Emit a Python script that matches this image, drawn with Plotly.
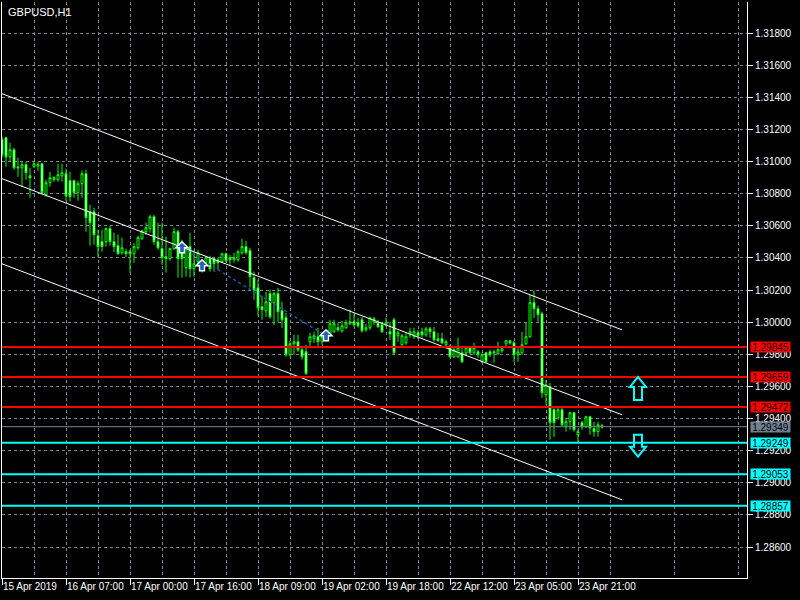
import plotly.graph_objects as go

# ---------------- data ----------------
symbol_title = "GBPUSD,H1"

open_ = [1.31136, 1.31148, 1.31029, 1.31073, 1.30967, 1.30961, 1.30980, 1.30911, 1.30967, 1.30973,
         1.30986, 1.30793, 1.30868, 1.30887, 1.30887, 1.30911, 1.30924, 1.30880, 1.30880, 1.30806,
         1.30862, 1.30924, 1.30687, 1.30687, 1.30538, 1.30501, 1.30501, 1.30582, 1.30501, 1.30476,
         1.30432, 1.30438, 1.30438, 1.30426, 1.30463, 1.30519, 1.30563, 1.30582, 1.30656, 1.30501,
         1.30457, 1.30407, 1.30395, 1.30457, 1.30563, 1.30438, 1.30339, 1.30470, 1.30332, 1.30376,
         1.30370, 1.30370, 1.30395, 1.30395, 1.30388, 1.30376, 1.30426, 1.30401, 1.30388, 1.30388,
         1.30432, 1.30470, 1.30445, 1.30277, 1.30214, 1.30096, 1.30071, 1.30177, 1.30121, 1.30177,
         1.30071, 1.30027, 1.29797, 1.29865, 1.29878, 1.29828, 1.29815, 1.29878, 1.29896, 1.29909,
         1.29878, 1.29903, 1.29921, 1.29940, 1.29965, 1.29946, 1.29965, 1.29990, 1.30002, 1.29996,
         1.30015, 1.29952, 1.29965, 1.30002, 1.29996, 1.29983, 1.29983, 1.29940, 1.30015, 1.29915,
         1.29859, 1.29871, 1.29921, 1.29909, 1.29934, 1.29940, 1.29921, 1.29958, 1.29940, 1.29896,
         1.29896, 1.29859, 1.29840, 1.29784, 1.29784, 1.29809, 1.29809, 1.29840, 1.29809, 1.29815,
         1.29753, 1.29809, 1.29815, 1.29815, 1.29803, 1.29822, 1.29865, 1.29884, 1.29871, 1.29797,
         1.29809, 1.29865, 1.29909, 1.30121, 1.30083, 1.30052, 1.29548, 1.29597, 1.29454, 1.29404,
         1.29454, 1.29349, 1.29380, 1.29436, 1.29299, 1.29374, 1.29349, 1.29411, 1.29336, 1.29318,
         1.29355]
high = [1.31155, 1.31155, 1.31117, 1.31086, 1.31023, 1.31005, 1.30998, 1.30961, 1.31005, 1.30998,
        1.30992, 1.30887, 1.30936, 1.30911, 1.30986, 1.30986, 1.30955, 1.30936, 1.30887, 1.30880,
        1.30943, 1.30949, 1.30731, 1.30712, 1.30575, 1.30575, 1.30588, 1.30600, 1.30557, 1.30544,
        1.30526, 1.30457, 1.30451, 1.30494, 1.30538, 1.30575, 1.30619, 1.30668, 1.30668, 1.30619,
        1.30619, 1.30532, 1.30463, 1.30588, 1.30575, 1.30513, 1.30482, 1.30557, 1.30451, 1.30451,
        1.30388, 1.30413, 1.30413, 1.30407, 1.30401, 1.30432, 1.30432, 1.30420, 1.30432, 1.30451,
        1.30519, 1.30507, 1.30463, 1.30314, 1.30264, 1.30164, 1.30189, 1.30202, 1.30189, 1.30214,
        1.30127, 1.30058, 1.29884, 1.29921, 1.29921, 1.29853, 1.29859, 1.29934, 1.29940, 1.29965,
        1.29940, 1.29952, 1.30015, 1.30015, 1.29996, 1.30008, 1.30015, 1.30077, 1.30058, 1.30027,
        1.30033, 1.29990, 1.30033, 1.30033, 1.30015, 1.30002, 1.30027, 1.30002, 1.30027, 1.29946,
        1.29927, 1.29934, 1.29965, 1.29965, 1.29952, 1.29965, 1.29971, 1.29971, 1.29971, 1.29934,
        1.29934, 1.29890, 1.29859, 1.29840, 1.29903, 1.29847, 1.29847, 1.29847, 1.29871, 1.29828,
        1.29809, 1.29815, 1.29828, 1.29828, 1.29878, 1.29847, 1.29890, 1.29890, 1.29884, 1.29847,
        1.29940, 1.29996, 1.30170, 1.30195, 1.30102, 1.30065, 1.29641, 1.29622, 1.29467, 1.29467,
        1.29467, 1.29404, 1.29442, 1.29442, 1.29330, 1.29386, 1.29417, 1.29417, 1.29380, 1.29380,
        1.29367]
low = [1.31023, 1.30967, 1.30998, 1.30949, 1.30905, 1.30843, 1.30887, 1.30775, 1.30961, 1.30943,
       1.30793, 1.30781, 1.30843, 1.30874, 1.30874, 1.30874, 1.30756, 1.30750, 1.30775, 1.30756,
       1.30775, 1.30563, 1.30476, 1.30482, 1.30407, 1.30438, 1.30470, 1.30476, 1.30438, 1.30420,
       1.30420, 1.30407, 1.30308, 1.30370, 1.30451, 1.30513, 1.30544, 1.30557, 1.30482, 1.30451,
       1.30357, 1.30308, 1.30382, 1.30451, 1.30277, 1.30277, 1.30283, 1.30277, 1.30283, 1.30345,
       1.30308, 1.30357, 1.30314, 1.30314, 1.30326, 1.30370, 1.30370, 1.30357, 1.30370, 1.30376,
       1.30420, 1.30420, 1.30214, 1.30139, 1.30040, 1.30015, 1.30033, 1.30021, 1.29983, 1.30002,
       1.29965, 1.29784, 1.29784, 1.29797, 1.29815, 1.29766, 1.29672, 1.29847, 1.29871, 1.29847,
       1.29859, 1.29878, 1.29909, 1.29934, 1.29940, 1.29934, 1.29958, 1.29983, 1.29971, 1.29965,
       1.29934, 1.29940, 1.29952, 1.29983, 1.29965, 1.29934, 1.29971, 1.29890, 1.29797, 1.29878,
       1.29853, 1.29859, 1.29903, 1.29896, 1.29896, 1.29903, 1.29909, 1.29903, 1.29878, 1.29878,
       1.29865, 1.29847, 1.29778, 1.29778, 1.29778, 1.29747, 1.29797, 1.29797, 1.29797, 1.29778,
       1.29747, 1.29747, 1.29784, 1.29747, 1.29797, 1.29809, 1.29840, 1.29859, 1.29753, 1.29753,
       1.29797, 1.29859, 1.29903, 1.30027, 1.30002, 1.29529, 1.29486, 1.29268, 1.29286, 1.29392,
       1.29349, 1.29318, 1.29330, 1.29318, 1.29256, 1.29330, 1.29342, 1.29299, 1.29286, 1.29286,
       1.29336]
close = [1.31042, 1.31029, 1.31073, 1.30961, 1.30961, 1.30980, 1.30930, 1.30899, 1.30986, 1.30980,
         1.30806, 1.30868, 1.30899, 1.30899, 1.30918, 1.30930, 1.30787, 1.30781, 1.30806, 1.30862,
         1.30924, 1.30650, 1.30619, 1.30544, 1.30470, 1.30470, 1.30582, 1.30501, 1.30470, 1.30426,
         1.30463, 1.30426, 1.30426, 1.30470, 1.30526, 1.30569, 1.30588, 1.30656, 1.30501, 1.30463,
         1.30401, 1.30395, 1.30457, 1.30563, 1.30395, 1.30395, 1.30470, 1.30332, 1.30364, 1.30432,
         1.30351, 1.30401, 1.30332, 1.30364, 1.30370, 1.30426, 1.30382, 1.30388, 1.30401, 1.30438,
         1.30470, 1.30432, 1.30283, 1.30202, 1.30089, 1.30077, 1.30127, 1.30033, 1.30177, 1.30065,
         1.30015, 1.29797, 1.29865, 1.29878, 1.29828, 1.29784, 1.29679, 1.29909, 1.29915, 1.29878,
         1.29909, 1.29934, 1.29990, 1.29990, 1.29952, 1.29977, 1.29996, 1.30002, 1.29983, 1.29977,
         1.29946, 1.29965, 1.30027, 1.30021, 1.29971, 1.29940, 1.29996, 1.29927, 1.29809, 1.29934,
         1.29915, 1.29909, 1.29940, 1.29940, 1.29915, 1.29921, 1.29958, 1.29940, 1.29890, 1.29884,
         1.29871, 1.29878, 1.29784, 1.29828, 1.29840, 1.29753, 1.29840, 1.29809, 1.29840, 1.29797,
         1.29797, 1.29753, 1.29797, 1.29809, 1.29828, 1.29834, 1.29884, 1.29871, 1.29797, 1.29815,
         1.29859, 1.29909, 1.30121, 1.30083, 1.30046, 1.29560, 1.29610, 1.29374, 1.29374, 1.29454,
         1.29361, 1.29380, 1.29436, 1.29330, 1.29318, 1.29349, 1.29411, 1.29342, 1.29318, 1.29361,
         1.29349]
bar_index = list(range(len(close)))

x_tick_pos = [0, 16, 32, 48, 64, 80, 96, 112, 128, 144]
x_tick_labels = ["15 Apr 2019", "16 Apr 07:00", "17 Apr 00:00", "17 Apr 16:00", "18 Apr 09:00",
                 "19 Apr 02:00", "19 Apr 18:00", "22 Apr 12:00", "23 Apr 05:00", "23 Apr 21:00"]
x_grid_minor = [8, 24, 40, 56, 72, 88, 104, 120, 136, 152, 168, 184]
x_range = [0, 186.25]

y_ticks = [1.286, 1.288, 1.290, 1.292, 1.294, 1.296, 1.298, 1.300, 1.302, 1.304,
           1.306, 1.308, 1.310, 1.312, 1.314, 1.316, 1.318]
y_range = [1.28407, 1.31993]

resistance_levels = [1.29845, 1.29659, 1.29472]
support_levels = [1.29249, 1.29053, 1.28857]
bid_price = 1.29349

channel_x = [0, 155]
channel_upper = [1.31422, 1.29952]
channel_mid = [1.30893, 1.29423]
channel_lower = [1.30363, 1.28894]

trade_bars = [45, 50, 81]
trade_prices = [1.30463, 1.30351, 1.29915]
trade_line_bars = [45, 81]
trade_line_prices = [1.30463, 1.29915]

signal_bar = 159
signal_up_price = 1.29659
signal_down_price = 1.29299

# ---------------- figure ----------------
FONT = "Liberation Sans"
GREEN = "#00FF00"
GRID = "#778899"

fig = go.Figure()

fig.add_trace(go.Candlestick(
    x=bar_index, open=open_, high=high, low=low, close=close,
    increasing=dict(line=dict(color=GREEN, width=1), fillcolor="#000000"),
    decreasing=dict(line=dict(color=GREEN, width=1), fillcolor="#FFFFFF"),
    whiskerwidth=0, showlegend=False, hoverinfo="skip",
))

for ys in (channel_upper, channel_mid, channel_lower):
    fig.add_trace(go.Scatter(x=channel_x, y=ys, mode="lines",
                             line=dict(color="#FFFFFF", width=1),
                             showlegend=False, hoverinfo="skip"))

fig.add_trace(go.Scatter(x=trade_line_bars, y=trade_line_prices, mode="lines",
                         line=dict(color="#1E5AAA", width=1.5, dash="dot"),
                         showlegend=False, hoverinfo="skip"))

shapes = []
for lv in resistance_levels:
    shapes.append(dict(type="line", xref="paper", x0=0, x1=1, yref="y", y0=lv, y1=lv,
                       line=dict(color="#FF0000", width=2)))
for lv in support_levels:
    shapes.append(dict(type="line", xref="paper", x0=0, x1=1, yref="y", y0=lv, y1=lv,
                       line=dict(color="#00FFFF", width=2)))
shapes.append(dict(type="line", xref="paper", x0=0, x1=1, yref="y", y0=bid_price, y1=bid_price,
                   line=dict(color=GRID, width=1)))

# small trade arrows (blue, white outline)
for tb, tp in zip(trade_bars, trade_prices):
    shapes.append(dict(type="path", xref="x", yref="y", xsizemode="pixel", ysizemode="pixel",
                       xanchor=tb, yanchor=tp,
                       path="M 0 6 L 6 0 L 2.5 0 L 2.5 -5 L -2.5 -5 L -2.5 0 L -6 0 Z",
                       fillcolor="#1E64BE", line=dict(color="#FFFFFF", width=1.4)))

# hollow signal arrows (pixel-sized, anchored at data points)
shapes.append(dict(type="path", xref="x", yref="y", xsizemode="pixel", ysizemode="pixel",
                   xanchor=signal_bar, yanchor=signal_up_price,
                   path="M 0 0 L 8 -10 L 4 -10 L 4 -23 L -4 -23 L -4 -10 L -8 -10 Z",
                   line=dict(color="#00FFFF", width=2)))
shapes.append(dict(type="path", xref="x", yref="y", xsizemode="pixel", ysizemode="pixel",
                   xanchor=signal_bar, yanchor=signal_down_price,
                   path="M -4 0 L 4 0 L 4 -12 L 8 -12 L 0 -22 L -8 -12 L -4 -12 Z",
                   line=dict(color="#00FFFF", width=2)))

annotations = [dict(text=symbol_title, xref="paper", yref="paper", x=0, y=1,
                    xanchor="left", yanchor="top", xshift=4, yshift=-2, showarrow=False,
                    font=dict(family=FONT, size=11, color="#FFFFFF"))]
for pos, lab in zip(x_tick_pos, x_tick_labels):
    annotations.append(dict(text=lab, xref="x", yref="paper", x=pos, y=0,
                            xanchor="left", yanchor="top", xshift=-1, yshift=-1,
                            showarrow=False, font=dict(family=FONT, size=10, color="#FFFFFF")))

def level_box(val, bg):
    return dict(text=f"{val:.5f}", xref="paper", yref="y", x=1, y=val,
                xanchor="left", yanchor="middle", xshift=3, showarrow=False,
                bgcolor=bg, width=39, height=10, borderpad=0,
                font=dict(family=FONT, size=10, color="#000000"))

for lv in resistance_levels:
    annotations.append(level_box(lv, "#FF0000"))
annotations.append(level_box(bid_price, "#708090"))
for lv in support_levels:
    annotations.append(level_box(lv, "#00FFFF"))

fig.update_layout(
    width=800, height=600, autosize=False,
    margin=dict(l=2, r=53, t=2, b=22, pad=0),
    paper_bgcolor="#000000", plot_bgcolor="#000000",
    boxgap=0.3,
    shapes=shapes, annotations=annotations,
    xaxis=dict(range=x_range, rangeslider=dict(visible=False), showgrid=True,
               gridcolor=GRID, griddash="dot", gridwidth=1,
               tickmode="array", tickvals=x_tick_pos, ticks="outside", ticklen=6,
               tickcolor="#FFFFFF", showticklabels=False, zeroline=False,
               showline=True, linecolor="#FFFFFF", linewidth=1,
               minor=dict(tickmode="array", tickvals=x_grid_minor, showgrid=True,
                          gridcolor=GRID, griddash="dot", gridwidth=1, ticks="")),
    yaxis=dict(range=y_range, side="right", showgrid=True, gridcolor=GRID,
               griddash="dot", gridwidth=1, tickmode="array", tickvals=y_ticks,
               tickformat=".5f", ticks="outside", ticklen=5, tickcolor="#FFFFFF",
               tickfont=dict(family=FONT, size=10, color="#FFFFFF"),
               zeroline=False, showline=True, linecolor="#FFFFFF", linewidth=1,
               mirror=True),
)

fig.write_html("out.html", config={"displayModeBar": False},
               post_script="document.body.style.margin='0';document.body.style.overflow='hidden';")
